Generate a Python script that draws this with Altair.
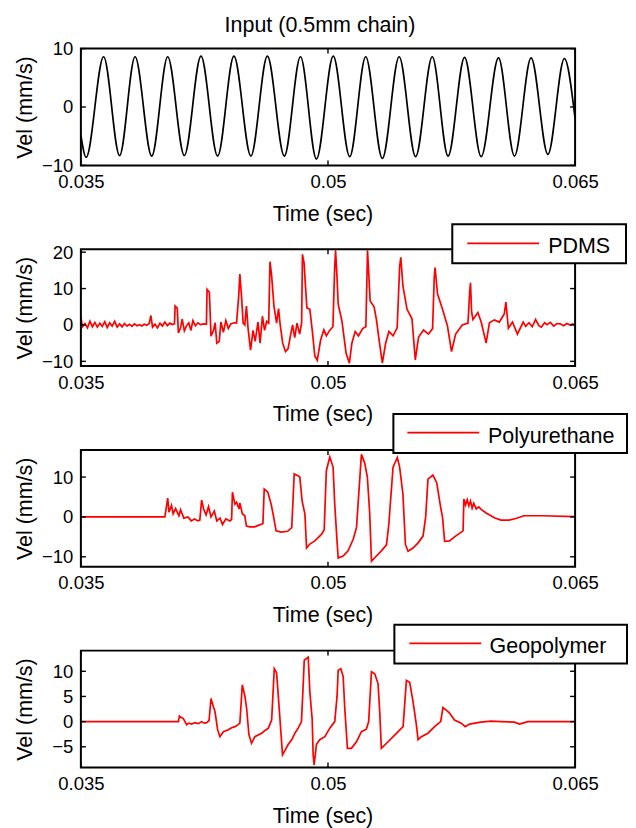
import altair as alt
import pandas as pd

FONT = "Liberation Sans"
W, H = 495, 117

x_domain = [0.035, 0.065]
x_tick_values = [0.035, 0.05, 0.065]

# ---- Input (0.5mm chain): extrema (time in ms, velocity mm/s)
input_t = [35.0, 35.32, 36.38, 37.35, 38.29, 39.30, 40.27, 41.28, 42.29, 43.30, 44.29,
           45.32, 46.32, 47.35, 48.33, 49.30, 50.32, 51.32, 52.29, 53.30, 54.32, 55.32,
           56.33, 57.29, 58.29, 59.30, 60.35, 61.32, 62.33, 63.35, 64.35, 65.0]
input_v = [-4.8, -8.6, 8.6, -8.3, 8.6, -8.4, 8.6, -8.3, 8.7, -8.4, 8.7,
           -8.4, 8.7, -8.4, 8.6, -8.9, 8.7, -8.5, 8.6, -8.8, 8.6, -8.5,
           8.6, -8.4, 8.5, -8.5, 8.4, -8.4, 8.4, -8.1, 8.3, -2.0]

# ---- PDMS
pdms_t = [35.00, 35.10, 35.25, 35.40, 35.55, 35.70, 35.85, 36.00, 36.15, 36.30, 36.45, 36.60,
          36.75, 36.90, 37.05, 37.20, 37.35, 37.50, 37.65, 37.80, 37.95, 38.10, 38.25, 38.40,
          38.55, 38.70, 38.85, 39.00, 39.15, 39.25, 39.35, 39.50, 39.65, 39.80, 39.95, 40.10,
          40.25, 40.40, 40.55, 40.68, 40.72, 40.85, 40.92, 41.05, 41.15, 41.28, 41.40, 41.55,
          41.68, 41.80, 41.95, 42.10, 42.25, 42.45, 42.62, 42.66, 42.80, 42.90, 43.05, 43.15,
          43.25, 43.40, 43.50, 43.65, 43.80, 43.95, 44.10, 44.30, 44.45, 44.58, 44.65, 44.75,
          44.85, 44.95, 45.05, 45.15, 45.30, 45.45, 45.58, 45.75, 45.88, 46.02, 46.15, 46.28,
          46.40, 46.48, 46.58, 46.72, 46.88, 47.00, 47.10, 47.25, 47.42, 47.58, 47.72, 47.85,
          47.98, 48.12, 48.28, 48.40, 48.45, 48.55, 48.62, 48.72, 48.90, 49.05, 49.20, 49.35,
          49.55, 49.75, 49.90, 50.10, 50.30, 50.40, 50.46, 50.55, 50.62, 50.85, 51.10, 51.30,
          51.45, 51.65, 51.85, 52.10, 52.30, 52.40, 52.50, 52.56, 52.80, 52.95, 53.10, 53.30,
          53.50, 53.70, 53.95, 54.20, 54.35, 54.42, 54.55, 54.80, 55.10, 55.30, 55.50, 55.80,
          56.10, 56.35, 56.45, 56.50, 56.65, 56.95, 57.25, 57.50, 57.75, 58.15, 58.50, 58.60,
          58.65, 58.72, 58.80, 59.10, 59.30, 59.60, 59.80, 60.10, 60.40, 60.70, 60.80, 60.95,
          61.20, 61.50, 61.85, 62.00, 62.20, 62.40, 62.60, 62.80, 62.95, 63.15, 63.30, 63.50,
          63.70, 63.90, 64.10, 64.30, 64.50, 64.70, 64.85, 65.00]
pdms_v = [2.0, -0.5, 0.4, -0.8, 1.0, -0.5, 0.7, -0.6, 0.5, -0.4, 0.9, -0.7,
          0.6, -0.3, 1.0, -0.6, 0.3, -0.5, 0.4, -0.3, 0.2, -0.4, 0.3, -0.2,
          0.1, -0.3, 0.2, -0.1, 0.4, 2.6, -0.6, 0.2, -0.8, 0.5, -0.3, 0.8,
          -0.2, 0.5, 0.1, 0.3, 5.2, 4.6, -2.2, -0.8, 1.6, -1.6, -0.3, 0.6,
          -1.5, 1.2, -0.2, 0.6, 0.1, 0.3, 0.2, 9.8, 9.0, -3.1, -1.5, 0.6,
          -5.0, -4.5, 0.8, -2.0, 1.2, -1.0, 0.3, 0.6, 0.5, 8.0, 14.0, 8.0,
          0.5, 0.0, 5.2, -1.0, -6.9, -1.5, -4.5, 0.8, -5.0, 2.4, -1.5, 1.0,
          0.5, 17.4, 13.5, 5.2, 0.5, 4.5, 0.0, -5.0, -7.3, -6.5, -3.0, 0.0,
          -3.5, 0.5, -2.5, 0.5, 19.4, 17.0, 11.7, 4.7, 4.3, -1.7, -8.5, -9.7,
          -4.2, -1.3, -3.0, -1.5, -0.5, 15.0, 20.5, 13.0, 5.7, 1.0, -7.8, -10.5,
          -5.0, -1.8, -3.0, -1.0, -0.5, 20.5, 12.0, 6.6, 5.0, 1.2, -4.0, -10.5,
          -5.0, -1.8, -3.0, -0.8, 16.0, 18.6, 10.7, 4.3, 1.7, -9.6, -3.3, -1.4,
          -2.5, -1.0, 13.0, 15.8, 8.5, 4.4, -0.2, -7.3, -2.5, 0.0, 0.5, 9.0,
          11.6, 3.5, 1.5, 3.4, 0.8, -5.0, 0.6, 1.4, 0.8, 3.0, 6.3, -0.9,
          0.8, -2.5, 0.8, -0.4, 0.6, -0.5, 1.5, -0.2, -0.6, 0.6, 0.1, 0.7,
          -0.3, 0.4, 0.3, -0.2, 0.4, 0.0, 0.3, 0.0]

# ---- Polyurethane
pu_t = [35.00, 40.10, 40.27, 40.35, 40.50, 40.60, 40.75, 40.95, 41.05, 41.25, 41.50, 41.70,
        41.90, 42.10, 42.22, 42.33, 42.45, 42.60, 42.75, 42.90, 43.10, 43.25, 43.45, 43.60,
        43.80, 44.05, 44.15, 44.20, 44.35, 44.45, 44.60, 44.65, 44.80, 44.95, 45.05, 45.25,
        45.55, 45.85, 46.05, 46.13, 46.35, 46.55, 46.70, 46.85, 47.15, 47.55, 47.80, 47.95,
        48.20, 48.29, 48.43, 48.60, 48.70, 48.90, 49.20, 49.60, 49.77, 49.90, 50.11, 50.31,
        50.41, 50.55, 50.62, 50.92, 51.22, 51.53, 51.73, 52.03, 52.23, 52.39, 52.53, 52.64,
        52.94, 53.24, 53.55, 53.69, 53.95, 54.21, 54.35, 54.55, 54.70, 54.86, 55.16, 55.47,
        55.77, 55.93, 56.07, 56.37, 56.60, 56.84, 56.95, 57.08, 57.38, 57.68, 58.20, 58.25,
        58.35, 58.45, 58.55, 58.65, 58.75, 58.85, 59.00, 59.15, 59.30, 59.60, 60.10, 60.50,
        61.00, 61.40, 61.90, 63.00, 65.00]
pu_v = [0.0, 0.0, 4.7, 1.2, 2.9, 0.8, 2.1, 0.3, 1.8, -0.3, 0.0, -1.0,
        -0.5, -1.0, -0.8, 4.2, 2.0, 0.5, 2.6, 0.0, 1.5, -1.0, -0.3, -1.9,
        -0.5, -1.0, -0.6, 6.2, 3.2, 3.7, 2.0, 3.5, 0.8, 0.3, -2.3, -2.5,
        -2.5, -2.0, -1.7, 7.0, 6.2, 3.2, 0.0, -3.5, -3.8, -3.6, -2.7, 10.8,
        10.3, 10.0, 4.0, 0.7, -7.8, -6.8, -6.0, -4.4, -3.2, 11.6, 15.0, 12.5,
        3.2, -6.1, -10.3, -9.8, -8.5, -5.6, -2.7, 15.7, 13.5, 10.0, 1.1, -11.1,
        -9.8, -8.5, -7.0, -2.0, 12.5, 14.9, 12.5, 5.7, -6.9, -8.6, -7.8, -6.5,
        -4.8, 0.0, 9.5, 10.5, 8.6, 2.4, 0.0, -6.1, -6.0, -5.0, -3.5, 4.5,
        3.0, 4.3, 2.8, 4.0, 2.2, 3.4, 2.0, 2.5, 1.9, 1.0, -0.2, -0.8,
        -0.8, -0.4, 0.3, 0.3, 0.1]

# ---- Geopolymer
geo_t = [35.00, 40.92, 40.98, 41.10, 41.22, 41.32, 41.42, 41.55, 41.73, 41.90, 42.13, 42.33,
         42.50, 42.64, 42.78, 42.90, 43.04, 43.14, 43.30, 43.44, 43.65, 43.95, 44.15, 44.35,
         44.55, 44.65, 44.80, 44.96, 45.06, 45.20, 45.36, 45.56, 45.97, 46.20, 46.38, 46.58,
         46.74, 46.88, 46.98, 47.14, 47.24, 47.59, 47.80, 47.99, 48.19, 48.39, 48.49, 48.56,
         48.80, 48.90, 49.04, 49.10, 49.16, 49.30, 49.50, 49.81, 50.11, 50.41, 50.55, 50.62,
         50.78, 50.92, 51.02, 51.18, 51.42, 51.73, 52.03, 52.33, 52.47, 52.64, 52.84, 53.04,
         53.14, 53.24, 53.65, 54.05, 54.56, 54.76, 54.96, 55.16, 55.36, 55.47, 55.67, 56.07,
         56.47, 56.84, 56.98, 57.18, 57.38, 57.68, 58.09, 58.33, 58.60, 59.26, 59.90, 60.50,
         61.32, 61.62, 62.13, 65.00]
geo_v = [0.0, 0.0, 1.1, 0.8, 0.6, 0.0, -0.6, -0.3, -0.5, -0.2, -0.4, 0.0,
         -0.3, -0.2, 0.2, 4.6, 3.0, 2.0, -1.6, -3.0, -2.0, -1.6, -1.2, -1.0,
         -0.6, -0.3, 7.3, 5.0, 2.7, -2.6, -4.3, -3.0, -2.3, -1.7, -1.3, 0.3,
         10.5, 9.7, 5.3, -2.0, -6.6, -4.5, -3.6, -2.3, -1.3, 0.0, 7.0, 12.2,
         12.8, 5.9, 0.5, -6.6, -8.6, -4.5, -3.6, -3.0, -1.3, 0.0, 5.0, 10.2,
         10.5, 9.0, 2.6, -5.3, -5.3, -4.0, -2.0, -1.5, 0.0, 9.9, 9.5, 7.5,
         2.0, -5.3, -4.0, -2.7, -1.0, 8.2, 7.8, 4.0, -0.5, -3.6, -3.0, -2.3,
         -1.0, 0.0, 2.8, 2.3, 1.7, 0.3, -0.3, -1.0, -0.5, -0.1, 0.1, 0.0,
         -0.1, -0.5, 0.0, 0.0]

axis_common = dict(ticks=False, domain=False, grid=False, labelFont=FONT, titleFont=FONT,
                   labelColor="black", titleColor="black", titleFontWeight="normal",
                   labelFontSize=18.5, titleFontSize=21.5)


def panel(t_ms, v, color, ydom, yticks, interp, label=None, box=None, title=None):
    df = pd.DataFrame({"t": [x / 1000 for x in t_ms], "v": v})
    xenc = alt.X("t:Q", scale=alt.Scale(domain=x_domain, nice=False, zero=False),
                 axis=alt.Axis(values=x_tick_values, format=".3~f", labelPadding=7,
                               title="Time (sec)", titleBaseline="alphabetic",
                               titleX=242, titleY=55, labelFlush=False, **axis_common))
    yenc = alt.Y("v:Q", scale=alt.Scale(domain=ydom, nice=False, zero=False),
                 axis=alt.Axis(values=yticks, labelPadding=8, title="Vel (mm/s)",
                               titleBaseline="alphabetic", titleAngle=270,
                               titleX=-49, titleY=H / 2, labelFlush=False, **axis_common))
    frame = alt.Chart(pd.DataFrame({"k": [0]})).mark_rect(
        fill=None, stroke="black", strokeWidth=2).encode(
        x=alt.value(0), x2=alt.value(W), y=alt.value(0), y2=alt.value(H))
    line = alt.Chart(df).mark_line(color=color, strokeWidth=1.7, interpolate=interp,
                                   clip=True).encode(x=xenc, y=yenc)
    ytdf = pd.DataFrame({"v": yticks})
    xtdf = pd.DataFrame({"t": x_tick_values})
    tk = dict(color="black", strokeWidth=1.4)
    tick_l = alt.Chart(ytdf).mark_rule(**tk).encode(y=yenc, x=alt.value(0), x2=alt.value(5))
    tick_r = alt.Chart(ytdf).mark_rule(**tk).encode(y=yenc, x=alt.value(W - 5), x2=alt.value(W))
    tick_b = alt.Chart(xtdf).mark_rule(**tk).encode(x=xenc, y=alt.value(H - 5), y2=alt.value(H))
    tick_t = alt.Chart(xtdf).mark_rule(**tk).encode(x=xenc, y=alt.value(0), y2=alt.value(5))
    layers = [line, tick_l, tick_r, tick_b, tick_t, frame]
    if label:
        ldf = pd.DataFrame({"label": [label]})
        bx0, bx1, by0, by1, lx0, lx1, ly, tx, ty = box
        rect = alt.Chart(ldf).mark_rect(fill="white", stroke="black", strokeWidth=2).encode(
            x=alt.value(bx0), x2=alt.value(bx1), y=alt.value(by0), y2=alt.value(by1))
        rule = alt.Chart(ldf).mark_rule(color=color, strokeWidth=1.7).encode(
            x=alt.value(lx0), x2=alt.value(lx1), y=alt.value(ly))
        text = alt.Chart(ldf).mark_text(align="left", baseline="alphabetic", fontSize=21.5,
                                        font=FONT, color="black").encode(
            x=alt.value(tx), y=alt.value(ty), text="label:N")
        layers += [rect, rule, text]
    ch = alt.layer(*layers).properties(width=W, height=H)
    if title:
        ch = ch.properties(title=alt.TitleParams(title, fontSize=21.5, fontWeight="normal",
                                                 font=FONT, color="black", anchor="middle",
                                                 baseline="alphabetic", offset=15.6, dx=-8,
                                                 dy=29.5))
    return ch


p1 = panel(input_t, input_v, "black", [-10, 10], [-10, 0, 10], "monotone",
           title="Input (0.5mm chain)")
p2 = panel(pdms_t, pdms_v, "red", [-11.3, 20.8], [-10, 0, 10, 20], "linear",
           label="PDMS", box=(372, 546, -25, 14, 387, 459, -6, 468, 3.7))
p3 = panel(pu_t, pu_v, "red", [-12.5, 16.8], [-10, 0, 10], "linear",
           label="Polyurethane", box=(313, 547, -36, 3, 327, 399, -17.3, 407.7, -7.3))
p4 = panel(geo_t, geo_v, "red", [-9.1, 14.1], [-5, 0, 5, 10], "linear",
           label="Geopolymer", box=(314, 547, -26, 13, 329, 401, -7.3, 409.3, 2.7))

chart = alt.vconcat(p1, p2, p3, p4, spacing=84, bounds="flush").configure(
    font=FONT, padding={"left": 7, "top": 6, "right": 0, "bottom": 0}
).configure_view(stroke=None)

chart.save("out.html", embed_options={"renderer": "svg", "actions": False})
